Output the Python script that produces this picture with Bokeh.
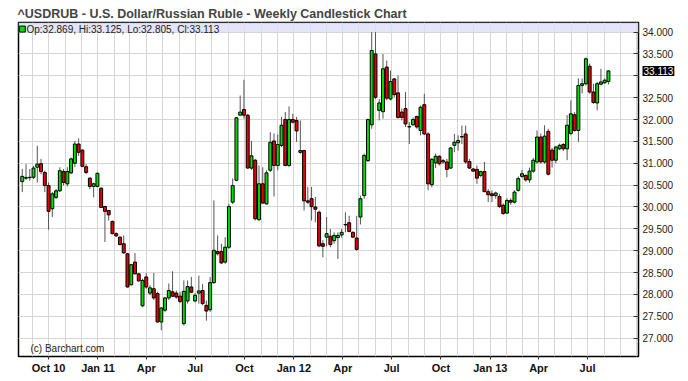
import numpy as np
import pandas as pd
from bokeh.plotting import figure
from bokeh.models import (Range1d, FixedTicker, Label, NumeralTickFormatter,
                          ColumnDataSource, BoxAnnotation)
from bokeh.core.properties import value
from bokeh.embed import file_html
from bokeh.resources import INLINE

# ---------------- data (weekly candles) ----------------
first_week = "2010-08-13"

opens = [30.58, 30.66, 30.67, 30.68, 30.91, 30.99, 30.79, 30.49, 29.96, 30.22,
         30.37, 30.81, 30.53, 30.78, 31.00, 31.44, 31.30, 30.92, 30.66, 30.47,
         30.47, 30.43, 30.01, 29.92, 29.67, 29.39, 29.31, 29.16, 28.93, 28.22,
         28.74, 28.47, 27.74, 28.40, 28.03, 28.13, 28.02, 27.37, 27.64, 27.92,
         28.06, 28.03, 27.96, 27.33, 27.85, 28.17, 27.85, 28.03, 28.09, 27.75,
         27.65, 28.27, 28.98, 28.98, 28.74, 29.08, 30.11, 30.61, 32.10, 32.23,
         32.10, 30.89, 31.07, 29.71, 30.53, 30.07, 30.84, 31.51, 30.95, 31.41,
         32.00, 30.95, 32.00, 31.98, 31.25, 31.29, 30.14, 30.19, 30.00, 29.88,
         29.16, 29.31, 29.33, 29.23, 29.30, 29.36, 29.59, 29.64, 29.42, 29.29,
         29.77, 30.26, 31.06, 31.88, 33.50, 32.21, 32.18, 33.20, 32.47, 32.93,
         32.61, 32.17, 32.25, 31.83, 31.88, 32.07, 31.75, 32.34, 31.67, 30.51,
         31.01, 31.16, 31.03, 31.03, 30.89, 31.41, 31.47, 31.60, 31.67, 31.04,
         30.87, 30.86, 30.72, 30.81, 30.35, 30.30, 30.26, 30.24, 30.04, 29.86,
         30.15, 30.11, 30.38, 30.70, 30.72, 30.62, 30.82, 31.03, 31.60, 31.03,
         31.73, 31.30, 31.07, 31.33, 31.43, 31.33, 31.68, 32.11, 31.75, 32.78,
         32.82, 33.22, 32.63, 32.38, 32.81, 32.84, 32.869]

highs = [30.87, 30.98, 30.87, 30.94, 31.40, 31.10, 30.83, 30.56, 30.34, 30.41,
         30.91, 30.87, 30.91, 31.13, 31.51, 31.57, 31.32, 30.98, 30.68, 30.56,
         30.79, 30.45, 30.03, 29.93, 29.69, 29.42, 29.33, 29.35, 28.95, 28.70,
         28.95, 28.49, 28.36, 28.49, 28.21, 28.49, 28.06, 27.71, 27.94, 28.25,
         28.53, 28.09, 28.06, 28.32, 28.32, 28.40, 28.03, 28.43, 28.24, 27.86,
         28.40, 30.15, 29.35, 29.16, 29.31, 30.07, 30.65, 32.06, 32.55, 32.91,
         32.13, 31.51, 31.10, 30.95, 30.91, 30.84, 31.71, 31.68, 31.66, 32.06,
         32.17, 32.30, 32.13, 32.06, 31.98, 31.31, 30.46, 30.46, 30.23, 29.92,
         29.24, 29.77, 29.50, 29.42, 29.42, 29.50, 29.88, 29.80, 29.44, 29.80,
         30.26, 31.22, 32.02, 34.00, 34.00, 32.47, 33.50, 33.35, 33.12, 32.95,
         33.01, 32.25, 32.63, 31.94, 32.05, 32.09, 32.32, 32.59, 31.71, 31.12,
         31.22, 31.18, 31.10, 31.10, 31.37, 31.67, 31.64, 31.86, 31.86, 31.10,
         30.89, 30.95, 30.83, 31.03, 30.41, 30.38, 30.35, 30.30, 30.08, 30.20,
         30.20, 30.38, 30.70, 30.85, 30.75, 30.90, 31.12, 31.75, 31.68, 31.87,
         31.79, 31.35, 31.40, 31.45, 31.46, 32.10, 32.44, 32.17, 32.94, 32.94,
         33.42, 33.28, 32.82, 32.86, 33.16, 32.94, 33.125]

lows = [30.34, 30.62, 30.60, 30.64, 30.56, 30.75, 30.34, 29.48, 29.77, 30.18,
        30.34, 30.49, 30.47, 30.75, 30.91, 31.17, 30.91, 30.75, 30.41, 30.22,
        30.45, 29.98, 29.20, 29.69, 29.37, 29.31, 29.12, 28.93, 28.16, 28.21,
        28.46, 28.29, 27.71, 28.13, 27.98, 27.87, 27.36, 27.18, 27.60, 27.87,
        27.94, 27.90, 27.80, 27.29, 27.79, 28.03, 27.82, 27.79, 27.75, 27.40,
        27.60, 28.24, 28.89, 28.70, 28.70, 29.04, 30.07, 30.59, 32.10, 32.02,
        30.88, 30.85, 29.69, 29.68, 30.07, 30.06, 30.80, 30.24, 30.84, 31.37,
        30.93, 30.91, 31.91, 31.49, 31.22, 29.92, 30.07, 29.69, 29.65, 29.08,
        28.85, 29.10, 29.08, 29.16, 28.81, 29.30, 29.42, 29.42, 29.29, 29.00,
        29.60, 30.19, 31.03, 31.79, 32.47, 31.98, 32.02, 32.44, 32.44, 32.51,
        32.02, 31.98, 31.83, 31.44, 31.86, 31.79, 31.64, 31.65, 30.38, 30.45,
        30.89, 30.95, 30.99, 30.68, 30.87, 31.25, 31.29, 31.44, 30.99, 30.87,
        30.81, 30.53, 30.68, 30.34, 30.11, 30.11, 30.19, 29.98, 29.82, 29.84,
        30.05, 30.08, 30.35, 30.66, 30.58, 30.55, 30.78, 30.99, 30.99, 30.99,
        30.72, 30.90, 31.00, 31.30, 31.28, 31.07, 31.64, 31.72, 31.49, 32.60,
        32.78, 32.59, 32.36, 32.21, 32.78, 32.82, 32.805]

closes = [30.70, 30.67, 30.68, 30.89, 30.98, 30.81, 30.49, 29.90, 30.30, 30.37,
          30.83, 30.56, 30.81, 31.10, 31.44, 31.25, 30.93, 30.79, 30.47, 30.53,
          30.77, 29.99, 29.90, 29.82, 29.39, 29.34, 29.14, 28.95, 28.17, 28.68,
          28.47, 28.31, 28.32, 28.17, 28.15, 27.92, 27.37, 27.69, 27.92, 28.09,
          27.96, 27.94, 27.84, 28.07, 28.18, 28.05, 27.98, 28.08, 27.79, 27.62,
          28.27, 29.01, 28.93, 28.72, 29.08, 30.01, 30.49, 32.04, 32.17, 32.10,
          30.89, 31.17, 29.73, 30.53, 30.09, 30.78, 31.48, 30.95, 31.43, 31.87,
          30.95, 32.00, 31.94, 31.74, 31.29, 30.14, 30.11, 30.01, 29.95, 29.11,
          29.10, 29.39, 29.14, 29.35, 29.35, 29.42, 29.60, 29.44, 29.31, 29.03,
          30.19, 31.18, 32.00, 33.58, 32.51, 32.38, 33.16, 32.49, 32.87, 32.57,
          32.05, 32.05, 31.90, 31.84, 32.00, 31.83, 32.28, 31.67, 30.53, 31.09,
          31.16, 30.99, 31.06, 30.86, 31.35, 31.48, 31.52, 31.61, 31.03, 30.89,
          30.82, 30.66, 30.81, 30.35, 30.28, 30.26, 30.32, 30.01, 29.85, 30.15,
          30.11, 30.34, 30.65, 30.76, 30.62, 30.82, 31.07, 31.60, 31.03, 31.62,
          30.75, 31.07, 31.37, 31.41, 31.33, 31.87, 32.13, 31.75, 32.78, 32.82,
          33.39, 32.63, 32.39, 32.82, 32.86, 32.90, 33.113]

price_ticks = [27.0, 27.5, 28.0, 28.5, 29.0, 29.5, 30.0, 30.5, 31.0, 31.5,
               32.0, 32.5, 33.0, 33.5, 34.0]
hidden_price_label = 33.0   # covered by the last-price tag in the original
quarter_starts = ["2010-10-01", "2011-01-01", "2011-04-01", "2011-07-01",
                  "2011-10-01", "2012-01-01", "2012-04-01", "2012-07-01",
                  "2012-10-01", "2013-01-01", "2013-04-01", "2013-07-01"]
quarter_labels = ["Oct 10", "Jan 11", "Apr", "Jul", "Oct", "Jan 12", "Apr",
                  "Jul", "Oct", "Jan 13", "Apr", "Jul"]

title_text = "^USDRUB - U.S. Dollar/Russian Ruble - Weekly Candlestick Chart"
credit_text = "(c) Barchart.com"

# ---------------- build ----------------
FONT = "Liberation Sans"
GREEN = "#00dd00"
RED = "#e60000"


def ms(ts):
    return int(pd.Timestamp(ts).value // 10**6)


dates = pd.date_range(first_week, periods=len(opens), freq="W-FRI")
o = np.array(opens)
c = np.array(closes)
src = ColumnDataSource(dict(
    x=dates,
    top=np.maximum(o, c),
    bottom=np.minimum(o, c),
    high=highs,
    low=lows,
    color=[GREEN if cc >= oo else RED for oo, cc in zip(o, c)],
))

x_start = pd.Timestamp("2010-08-06")
x_end = pd.Timestamp("2013-10-04")
y_lo, y_hi = 26.58, 34.22

p = figure(width=680, height=376, x_axis_type="datetime",
           x_range=Range1d(x_start, x_end), y_range=Range1d(y_lo, y_hi),
           y_axis_location="right", output_backend="svg",
           toolbar_location=None,
           min_border_left=18, min_border_right=42,
           min_border_top=22, min_border_bottom=20)

p.title.text = title_text
p.title.text_font = FONT
p.title.text_font_size = "12.5px"
p.title.text_font_style = "bold"
p.title.standoff = 3
p.title.offset = -1

p.background_fill_color = "white"
p.border_fill_color = "white"
p.outline_line_color = "black"
p.outline_line_width = 1.5

# grids
month_ticks = [ms(d) for d in pd.date_range("2010-09-01", "2013-10-01", freq="MS")]
p.xgrid.ticker = FixedTicker(ticks=month_ticks)
p.ygrid.ticker = FixedTicker(ticks=price_ticks)
p.xgrid.grid_line_color = "#d6d6d6"
p.ygrid.grid_line_color = "#d6d6d6"

# legend band at top of frame
p.add_layout(BoxAnnotation(bottom=34.0, fill_color="#dedef8", fill_alpha=0.8,
                           line_color=None, level="underlay"))

# y axis (right)
ya = p.yaxis[0]
ya.ticker = FixedTicker(ticks=price_ticks)
ya.formatter = NumeralTickFormatter(format="0.000")
ya.major_label_overrides = {hidden_price_label: ""}
ya.major_label_text_font = FONT
ya.major_label_text_font_size = "10px"
ya.major_label_text_color = "#222222"
ya.major_tick_in = 5
ya.major_tick_out = 0
ya.major_tick_line_color = "#333333"
ya.minor_tick_line_color = None
ya.axis_line_color = None
ya.major_label_standoff = 4

# x axis
q_ticks = [ms(d) for d in quarter_starts]
xa = p.xaxis[0]
xa.ticker = FixedTicker(ticks=q_ticks)
xa.major_label_overrides = {t: lab for t, lab in zip(q_ticks, quarter_labels)}
xa.major_label_text_font = FONT
xa.major_label_text_font_size = "11px"
xa.major_label_text_font_style = "bold"
xa.major_label_text_color = "#111111"
xa.major_tick_in = 0
xa.major_tick_out = 3
xa.major_tick_line_color = "#333333"
xa.minor_tick_line_color = None
xa.axis_line_color = None
xa.major_label_standoff = 2

# candles
p.segment(x0="x", y0="low", x1="x", y1="high", source=src,
          line_color="#555555", line_width=1)
p.vbar(x="x", width=5.5 * 86400000, top="top", bottom="bottom", source=src,
       fill_color="color", line_color="black", line_width=1)

# legend line (last candle values)
p.scatter(x=[x_start + pd.Timedelta(days=7)], y=[34.07], marker="square",
          size=6, fill_color=GREEN, line_color="black", line_width=1)
legend_text = "Op:%.3f, Hi:%.3f, Lo:%.3f, Cl:%.3f" % (opens[-1], highs[-1], lows[-1], closes[-1])
p.add_layout(Label(x=x_start, y=34.07, x_offset=8, text=legend_text,
                   text_font=FONT, text_font_size="10px", text_color="#222222",
                   text_baseline="middle"))

# credit
p.add_layout(Label(x=x_start, y=y_lo, x_offset=12, y_offset=8, text=credit_text,
                   text_font=FONT, text_font_size="10px", text_color="#222222",
                   text_baseline="alphabetic"))

# last price tag (drawn on the overlay level so it can sit over the axis)
p.text(x=[x_end], y=[closes[-1]], text=["%.3f" % closes[-1]], x_offset=4,
       text_font=value(FONT), text_font_size="10px", text_color="white",
       text_baseline="middle", text_align="left",
       background_fill_color="black", padding=1, level="overlay")

open("out.html", "w").write(file_html(p, INLINE))
